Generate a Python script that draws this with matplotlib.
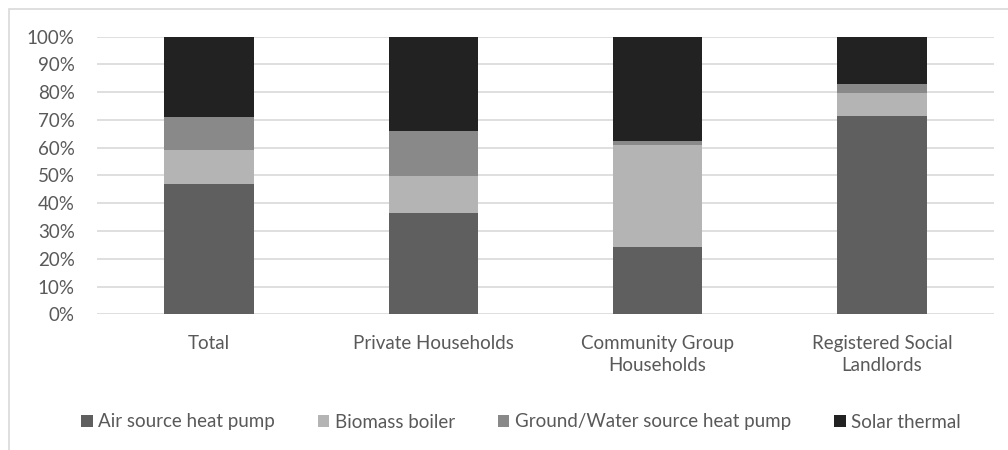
import matplotlib
matplotlib.use("Agg")
import matplotlib.pyplot as plt
from matplotlib.patches import Rectangle
from matplotlib.ticker import FuncFormatter
import numpy as np

categories = ["Total", "Private Households", "Community Group\nHouseholds", "Registered Social\nLandlords"]
series_names = ["Air source heat pump", "Biomass boiler", "Ground/Water source heat pump", "Solar thermal"]
air_source = [46.8, 36.6, 24.2, 71.3]
biomass = [12.3, 13.2, 36.7, 8.5]
ground_water = [11.9, 16.1, 1.4, 3.1]
solar_thermal = [29.0, 34.1, 37.7, 17.1]
colors = ["#5f5f5f", "#b4b4b4", "#898989", "#222222"]

plt.rcParams['font.family'] = ['Lato', 'DejaVu Sans']
fig = plt.figure(figsize=(10.08, 4.5), dpi=100)
ax = fig.add_axes([97/1008, 1-314.3/450, (994-97)/1008, (314.3-36.7)/450])

x = np.arange(len(categories))
bottom = np.zeros(len(categories))
for name, vals, c in zip(series_names, [air_source, biomass, ground_water, solar_thermal], colors):
    ax.bar(x, vals, 0.4, bottom=bottom, color=c, label=name, zorder=3)
    bottom += np.array(vals)

ax.set_xlim(-0.5, 3.5)
ax.set_ylim(0, 100)
ax.set_yticks(np.arange(0, 101, 10))
ax.yaxis.set_major_formatter(FuncFormatter(lambda v, p: f"{int(v)}%"))
ax.grid(axis='y', color='#d9d9d9', linewidth=1.2, zorder=0)
for s in ax.spines.values():
    s.set_visible(False)
ax.tick_params(axis='both', length=0, labelsize=13.5, colors='#595959')
ax.tick_params(axis='y', pad=16)
ax.tick_params(axis='x', pad=15)
ax.set_xticks(x)
ax.set_xticklabels(categories, linespacing=1.35)

leg = fig.legend(loc='center', bbox_to_anchor=(0.517, 1-422/450), ncol=4, frameon=False,
                 fontsize=13.5, handlelength=0.6, handleheight=0.6, handletextpad=0.3,
                 columnspacing=2.3, labelcolor='#595959')

fig.patches.append(Rectangle((9/1008, -0.1), 1.2, 1-9/450+0.1, transform=fig.transFigure,
                             fill=False, edgecolor='#d9d9d9', linewidth=1.2))

fig.savefig("out.png", dpi=100)
